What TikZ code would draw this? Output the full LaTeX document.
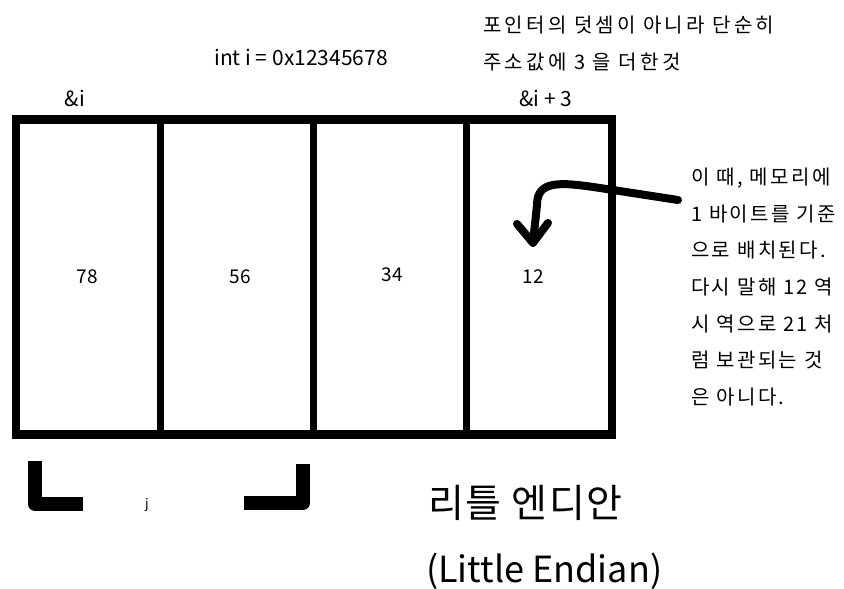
\documentclass[tikz,border=0pt]{standalone}
\usepackage{fontspec}
\setmainfont{Noto Sans CJK KR}
\newfontfamily\krwide[LetterSpace=12]{Noto Sans CJK KR}
\newfontfamily\krwider[LetterSpace=16]{Noto Sans CJK KR}
\newfontfamily\krtitle[LetterSpace=4]{Noto Sans CJK KR}
\usetikzlibrary{positioning,calc}

\begin{document}
\begin{tikzpicture}[
    x=1pt, y=-1pt,
    label/.style={inner sep=0pt, font=\fontsize{21}{24}\selectfont},
    cell/.style={inner sep=0pt, font=\fontsize{19}{22}\selectfont},
    remark/.style={inner sep=0pt, font=\krwider\fontsize{20}{24}\selectfont},
    note/.style={inner sep=0pt, align=left, font=\krwide\fontsize{20}{36.6}\selectfont},
    frame/.style={line width=8.5pt, line cap=rect},
    divider/.style={line width=7pt},
    bracket/.style={line width=14pt, line join=round},
    curvearrow/.style={line width=8pt, line cap=round, line join=round}
]
    \useasboundingbox[fill=white] (0,0) rectangle (844,589);

    % memory bytes
    \draw[frame] (16,119.5) rectangle (612,434.5);
    \foreach \x in {160.5,313.5,466} {
        \draw[divider] (\x,119.5) -- (\x,434.5);
    }
    \node[cell] (b0) at (87,277) {78};
    \node[cell] (b1) at (240,277) {56};
    \node[cell] (b2) at (392,275) {34};
    \node[cell] (b3) at (533,277) {12};

    % labels above
    \node[label] (addr) at (75,98) {\&i};
    \node[label] (addr3) at (546,98) {\&i + 3};
    \node[label] (decl) at (301,57) {int i = 0x12345678};
    \node[remark, anchor=west] (top1) at (483,25) {포인터의 덧셈이 아니라 단순히};
    \node[remark, anchor=west] (top2) at (483,62) {주소값에 3 을 더한것};

    % side note and arrow
    \node[note, anchor=north west] (side) at (691,168) {이 때, 메모리에\\1 바이트를 기준\\으로 배치된다.\\다시 말해 12 역\\시 역으로 21 처\\럼 보관되는 것\\은 아니다.};
    \coordinate (start) at ([xshift=-13pt, yshift=-32pt]side.north west);
    \coordinate (tip) at ([yshift=27pt]b3.north);
    \draw[curvearrow] (start) -- (600,188) .. controls (560,182) and (537,180) .. (537,205) -- (tip);
    \draw[curvearrow] ($(tip)+(-16,-19)$) -- (tip) -- ($(tip)+(15,-20)$);

    % brackets
    \draw[bracket] (35,461) -- (35,504) -- (83,504);
    \draw[bracket] (244,503) -- (303,503) -- (303,464);
    \node[inner sep=0pt, font=\fontsize{13}{15}\selectfont] (jmark) at (147,505) {j};

    % title
    \node[inner sep=0pt, anchor=west, font=\krtitle\fontsize{39}{44}\selectfont] (title) at (428,503) {리틀 엔디안};
    \node[inner sep=0pt, anchor=west, font=\fontsize{36}{40}\selectfont] (subtitle) at (426,571) {(Little Endian)};
\end{tikzpicture}
\end{document}
